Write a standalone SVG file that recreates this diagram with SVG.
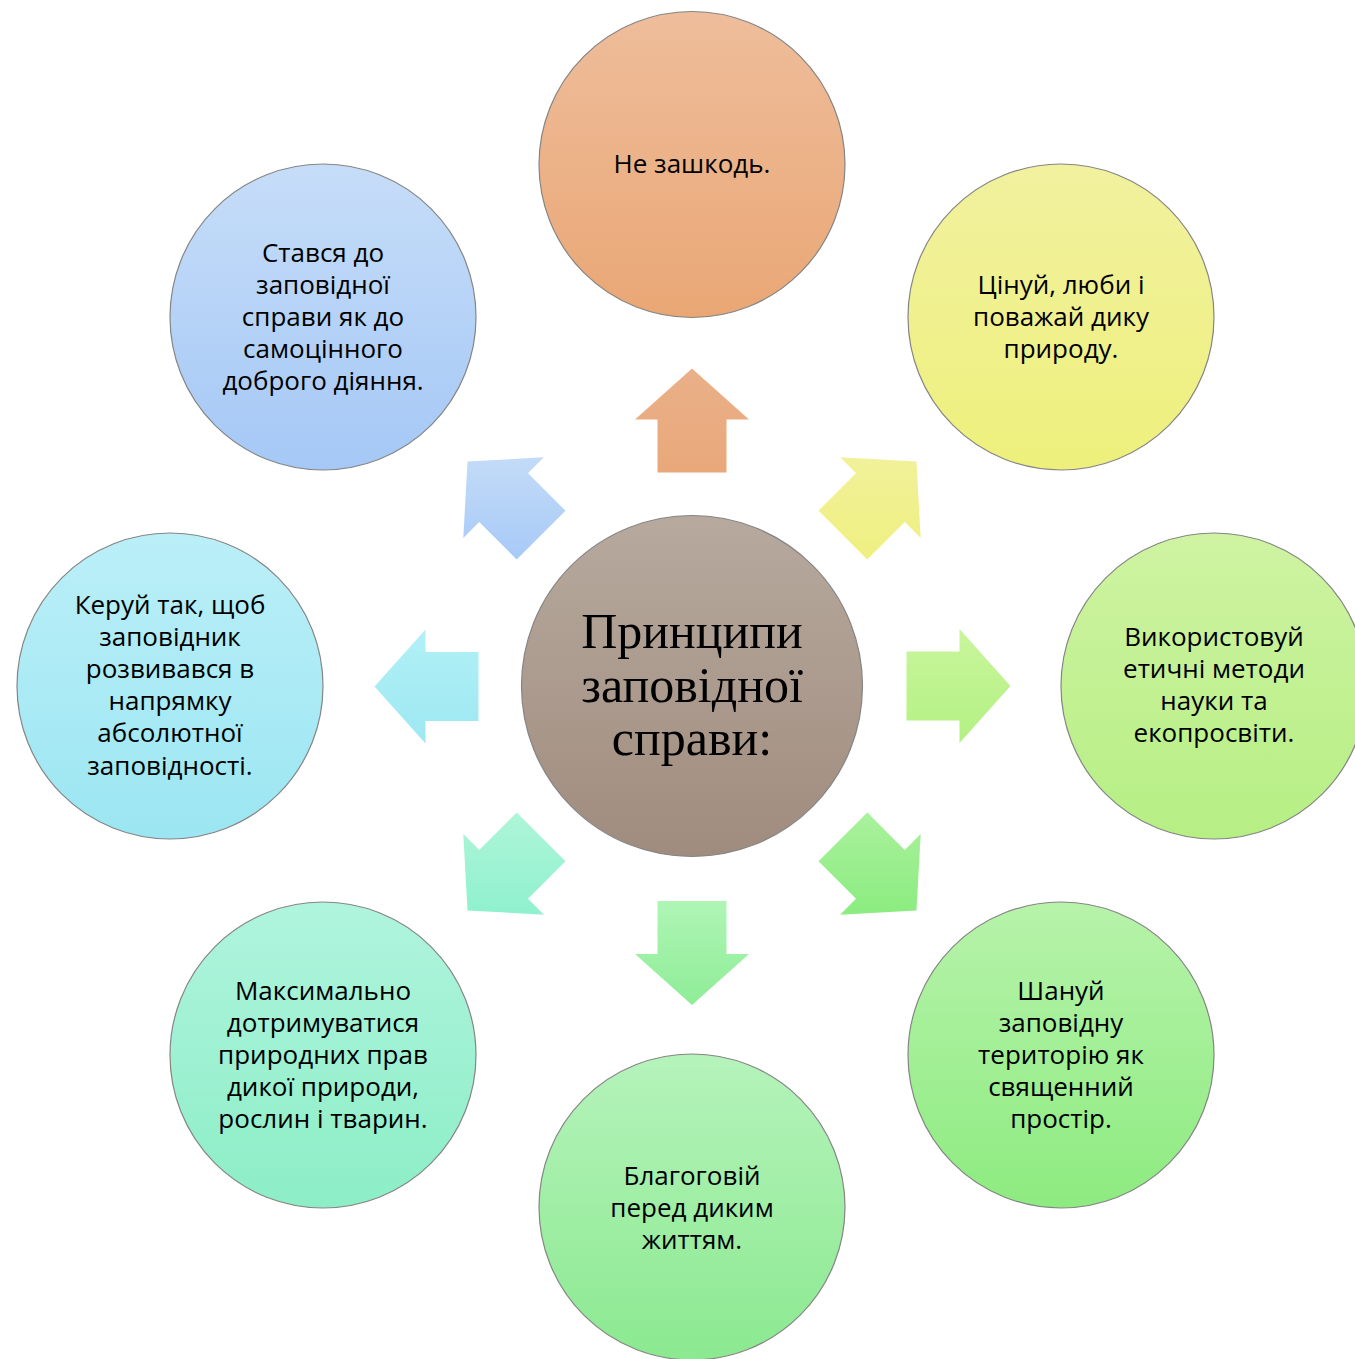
<svg xmlns="http://www.w3.org/2000/svg" width="1355" height="1359" viewBox="0 0 1355 1359">
<defs>
<linearGradient id="gTop" x1="0" y1="0" x2="0" y2="1"><stop offset="0" stop-color="#eebd9b"/><stop offset="1" stop-color="#eaa775"/></linearGradient>
<linearGradient id="gTR" x1="0" y1="0" x2="0" y2="1"><stop offset="0" stop-color="#f1f19f"/><stop offset="1" stop-color="#eef07c"/></linearGradient>
<linearGradient id="gR" x1="0" y1="0" x2="0" y2="1"><stop offset="0" stop-color="#cff3a2"/><stop offset="1" stop-color="#b6ef84"/></linearGradient>
<linearGradient id="gBR" x1="0" y1="0" x2="0" y2="1"><stop offset="0" stop-color="#b7f3aa"/><stop offset="1" stop-color="#8deb80"/></linearGradient>
<linearGradient id="gB" x1="0" y1="0" x2="0" y2="1"><stop offset="0" stop-color="#b5f3bb"/><stop offset="1" stop-color="#8be990"/></linearGradient>
<linearGradient id="gBL" x1="0" y1="0" x2="0" y2="1"><stop offset="0" stop-color="#b0f4de"/><stop offset="1" stop-color="#8ceec6"/></linearGradient>
<linearGradient id="gL" x1="0" y1="0" x2="0" y2="1"><stop offset="0" stop-color="#bbeff8"/><stop offset="1" stop-color="#9be6f2"/></linearGradient>
<linearGradient id="gTL" x1="0" y1="0" x2="0" y2="1"><stop offset="0" stop-color="#c6ddf8"/><stop offset="1" stop-color="#a5c8f6"/></linearGradient>
<linearGradient id="gC" x1="0" y1="0" x2="0" y2="1"><stop offset="0" stop-color="#b7a99e"/><stop offset="1" stop-color="#a08c7e"/></linearGradient>
<linearGradient id="aTop" x1="0" y1="0" x2="0" y2="1"><stop offset="0" stop-color="#eab089"/><stop offset="1" stop-color="#e9a87a"/></linearGradient>
<linearGradient id="aTR" x1="0" y1="0" x2="0" y2="1"><stop offset="0" stop-color="#f1f19a"/><stop offset="1" stop-color="#eff080"/></linearGradient>
<linearGradient id="aR" x1="0" y1="0" x2="0" y2="1"><stop offset="0" stop-color="#c9f59c"/><stop offset="1" stop-color="#b3f183"/></linearGradient>
<linearGradient id="aBR" x1="0" y1="0" x2="0" y2="1"><stop offset="0" stop-color="#aaf19c"/><stop offset="1" stop-color="#8bec80"/></linearGradient>
<linearGradient id="aB" x1="0" y1="0" x2="0" y2="1"><stop offset="0" stop-color="#aff5b6"/><stop offset="1" stop-color="#8eed96"/></linearGradient>
<linearGradient id="aBL" x1="0" y1="0" x2="0" y2="1"><stop offset="0" stop-color="#aef5d8"/><stop offset="1" stop-color="#8ff1ce"/></linearGradient>
<linearGradient id="aL" x1="0" y1="0" x2="0" y2="1"><stop offset="0" stop-color="#b2f0f6"/><stop offset="1" stop-color="#9de8f2"/></linearGradient>
<linearGradient id="aTL" x1="0" y1="0" x2="0" y2="1"><stop offset="0" stop-color="#c3dbf7"/><stop offset="1" stop-color="#a7caf7"/></linearGradient>
</defs>
<style>
.n{stroke:#858585;stroke-width:1.2}
.t{font-family:"Open Sans","Noto Sans","DejaVu Sans",sans-serif;font-size:26px;fill:#000;text-anchor:middle}
.c{font-family:"Liberation Serif","Times New Roman",serif;font-size:50px;fill:#000;text-anchor:middle}
</style>
<g id="connectors">
<polygon transform="translate(692,420.5)" fill="url(#aTop)" points="0,-52 57,-1 34.5,-1 34.5,52 -34.5,52 -34.5,-1 -57,-1"/>
<polygon transform="translate(879.7,498.3)" fill="url(#aTR)" points="36.77,-36.77 41.01,39.60 25.10,23.69 -12.37,61.16 -61.16,12.37 -23.69,-25.10 -39.60,-41.01"/>
<polygon transform="translate(958.5,686)" fill="url(#aR)" points="52,0 1,57 1,34.5 -52,34.5 -52,-34.5 1,-34.5 1,-57"/>
<polygon transform="translate(879.7,873.7)" fill="url(#aBR)" points="36.77,36.77 -39.60,41.01 -23.69,25.10 -61.16,-12.37 -12.37,-61.16 25.10,-23.69 41.01,-39.60"/>
<polygon transform="translate(692,953)" fill="url(#aB)" points="0,52 -57,1 -34.5,1 -34.5,-52 34.5,-52 34.5,1 57,1"/>
<polygon transform="translate(504.3,873.7)" fill="url(#aBL)" points="-36.77,36.77 -41.01,-39.60 -25.10,-23.69 12.37,-61.16 61.16,-12.37 23.69,25.10 39.60,41.01"/>
<polygon transform="translate(426.5,686.5)" fill="url(#aL)" points="-52,0 -1,-57 -1,-34.5 52,-34.5 52,34.5 -1,34.5 -1,57"/>
<polygon transform="translate(504.3,498.3)" fill="url(#aTL)" points="-36.77,-36.77 39.60,-41.01 23.69,-25.10 61.16,12.37 12.37,61.16 -25.10,23.69 -41.01,39.60"/>
</g>
<g id="center">
<circle class="n" cx="692" cy="686" r="170.5" fill="url(#gC)"/>
<text class="c" x="692" y="648">Принципи</text>
<text class="c" x="692" y="702">заповідної</text>
<text class="c" x="692" y="755">справи:</text>
</g>
<g id="n-top">
<circle class="n" cx="692" cy="164.5" r="153" fill="url(#gTop)"/>
<text class="t" x="692" y="173">Не зашкодь.</text>
</g>
<g id="n-topright">
<circle class="n" cx="1061" cy="317" r="153" fill="url(#gTR)"/>
<text class="t" x="1061" y="294">Цінуй, люби і</text>
<text class="t" x="1061" y="326">поважай дику</text>
<text class="t" x="1061" y="358">природу.</text>
</g>
<g id="n-right">
<circle class="n" cx="1214" cy="686" r="153" fill="url(#gR)"/>
<text class="t" x="1214" y="646">Використовуй</text>
<text class="t" x="1214" y="678">етичні методи</text>
<text class="t" x="1214" y="710">науки та</text>
<text class="t" x="1214" y="742">екопросвіти.</text>
</g>
<g id="n-bottomright">
<circle class="n" cx="1061" cy="1055" r="153" fill="url(#gBR)"/>
<text class="t" x="1061" y="1000">Шануй</text>
<text class="t" x="1061" y="1032">заповідну</text>
<text class="t" x="1061" y="1064">територію як</text>
<text class="t" x="1061" y="1096">священний</text>
<text class="t" x="1061" y="1128">простір.</text>
</g>
<g id="n-bottom">
<circle class="n" cx="692" cy="1207" r="153" fill="url(#gB)"/>
<text class="t" x="692" y="1185">Благоговій</text>
<text class="t" x="692" y="1217">перед диким</text>
<text class="t" x="692" y="1249">життям.</text>
</g>
<g id="n-bottomleft">
<circle class="n" cx="323" cy="1055" r="153" fill="url(#gBL)"/>
<text class="t" x="323" y="1000">Максимально</text>
<text class="t" x="323" y="1032">дотримуватися</text>
<text class="t" x="323" y="1064">природних прав</text>
<text class="t" x="323" y="1096">дикої природи,</text>
<text class="t" x="323" y="1128">рослин і тварин.</text>
</g>
<g id="n-left">
<circle class="n" cx="170" cy="686" r="153" fill="url(#gL)"/>
<text class="t" x="170" y="614">Керуй так, щоб</text>
<text class="t" x="170" y="646">заповідник</text>
<text class="t" x="170" y="678">розвивався в</text>
<text class="t" x="170" y="710">напрямку</text>
<text class="t" x="170" y="742">абсолютної</text>
<text class="t" x="170" y="775">заповідності.</text>
</g>
<g id="n-topleft">
<circle class="n" cx="323" cy="317" r="153" fill="url(#gTL)"/>
<text class="t" x="323" y="262">Стався до</text>
<text class="t" x="323" y="294">заповідної</text>
<text class="t" x="323" y="326">справи як до</text>
<text class="t" x="323" y="358">самоцінного</text>
<text class="t" x="323" y="390">доброго діяння.</text>
</g>
</svg>
